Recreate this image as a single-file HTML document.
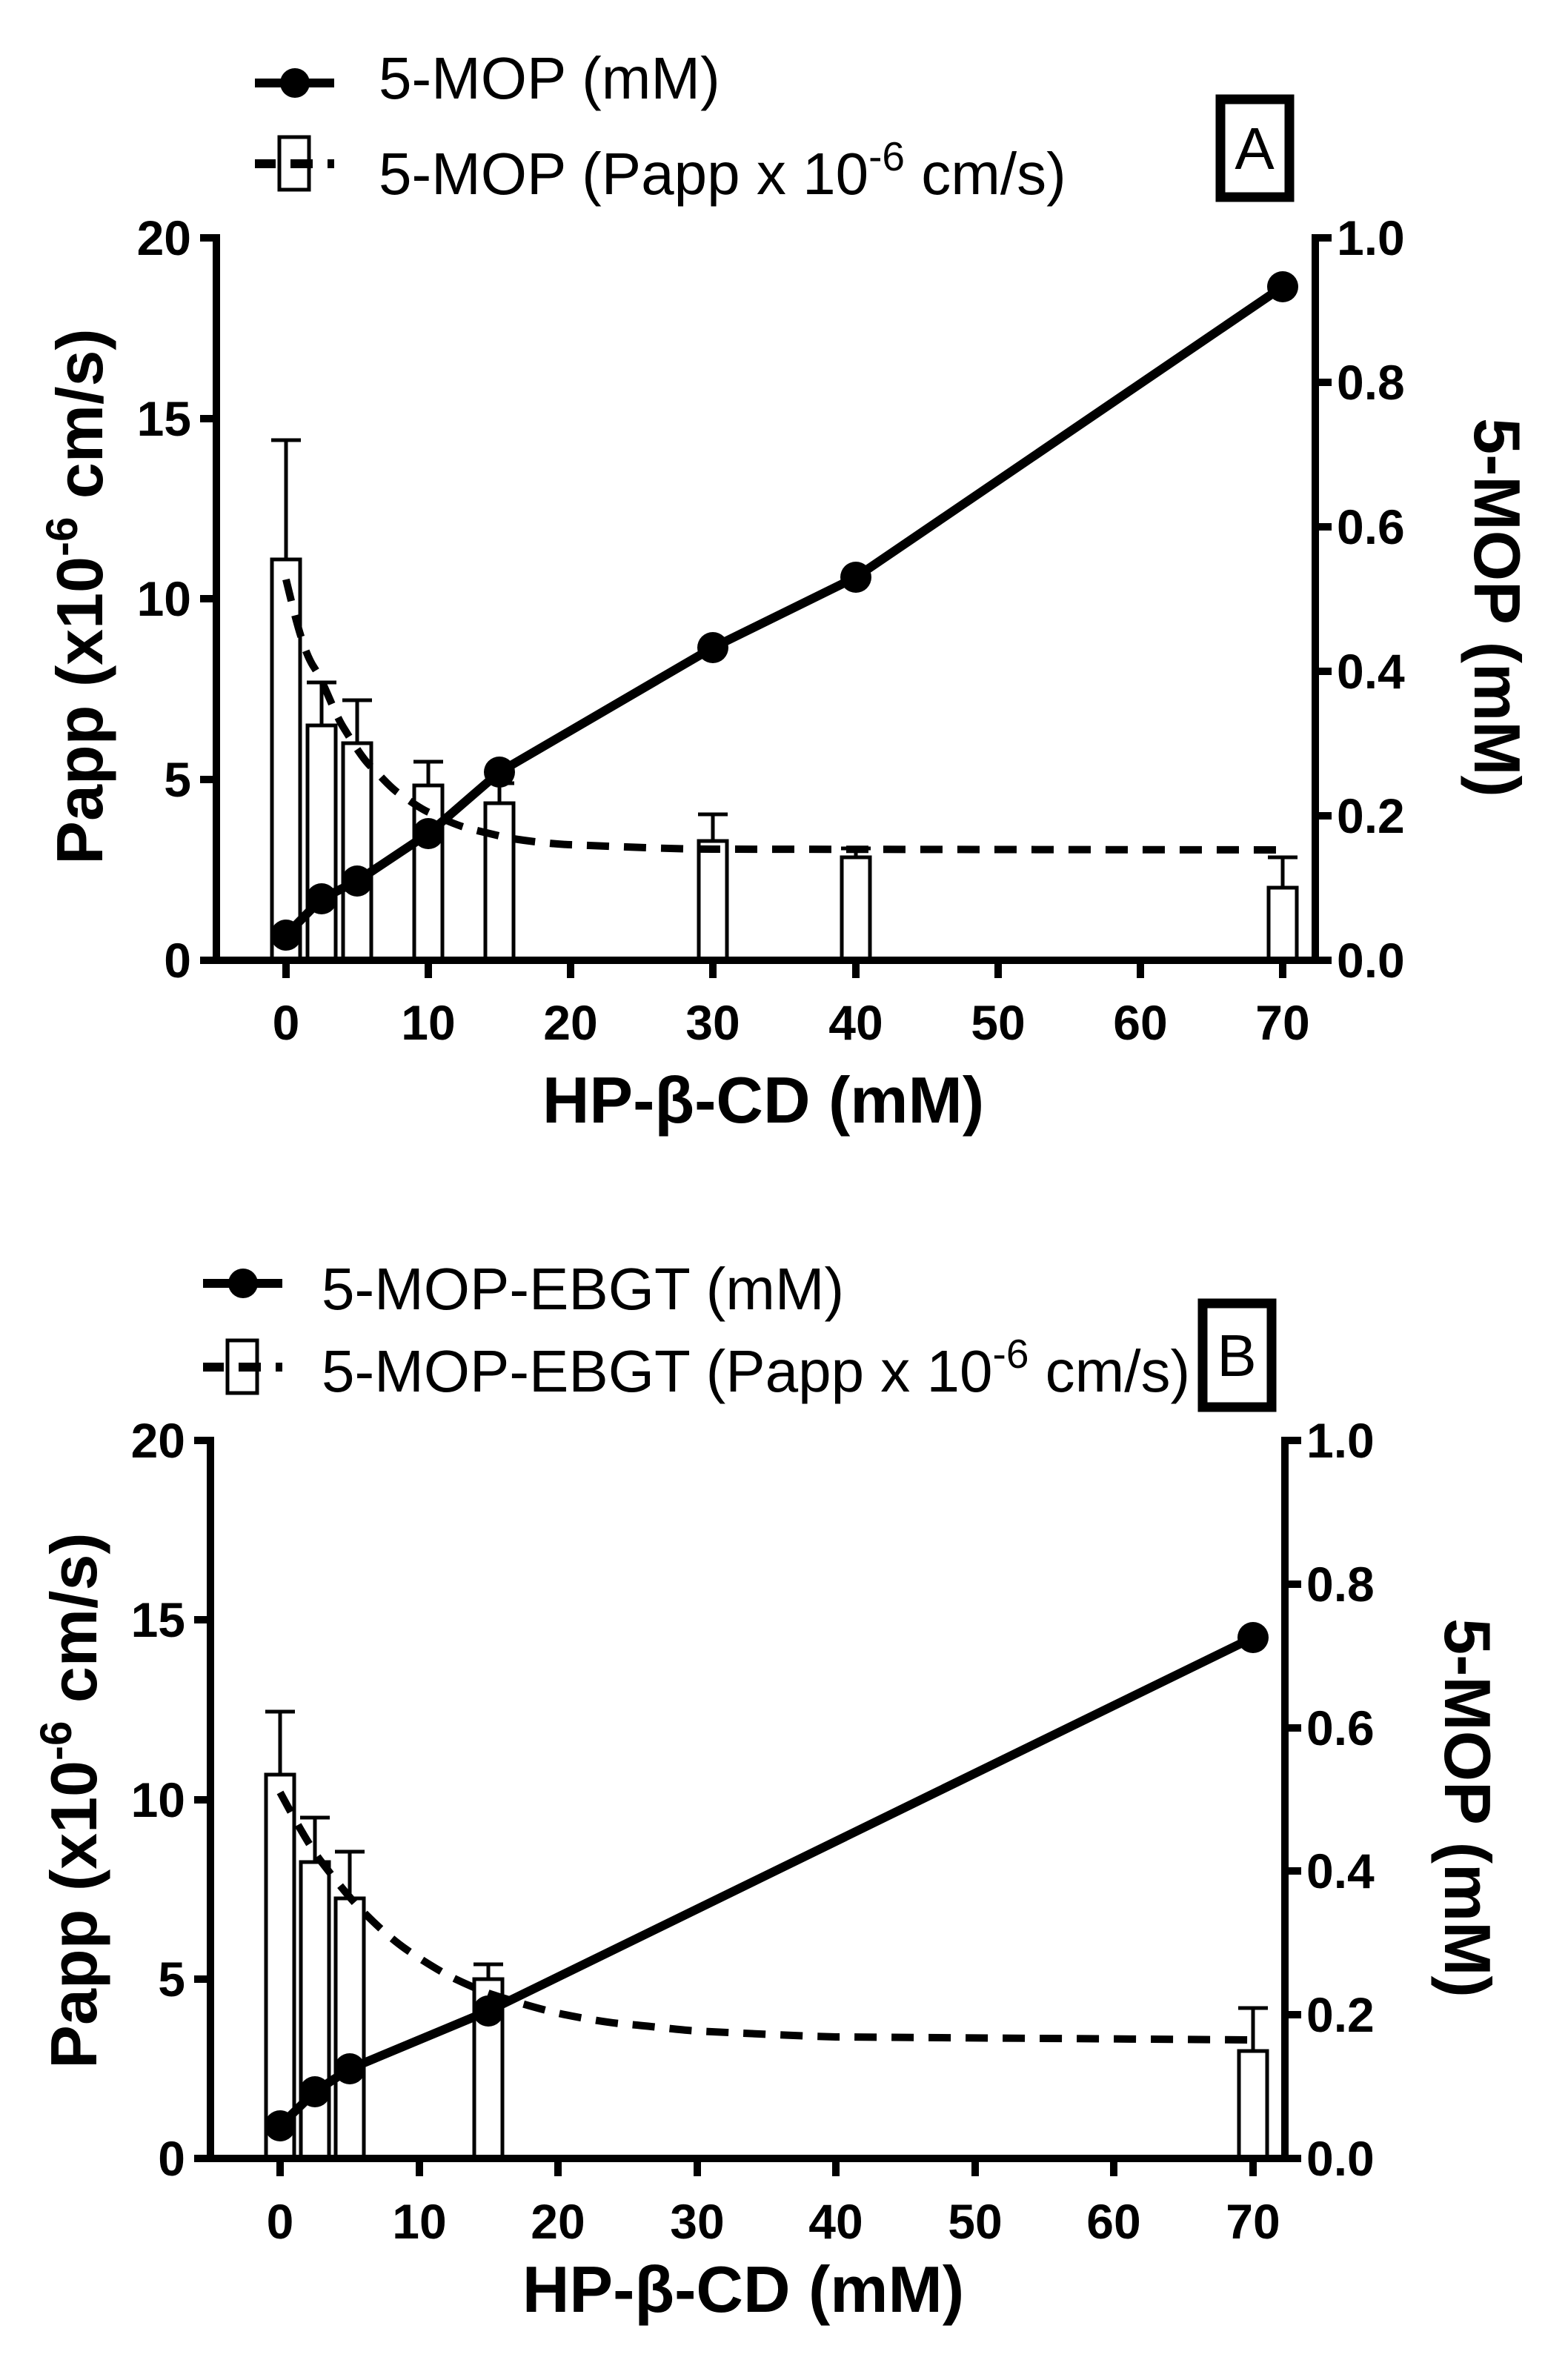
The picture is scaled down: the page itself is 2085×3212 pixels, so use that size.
<!DOCTYPE html>
<html><head><meta charset="utf-8"><style>
html,body{margin:0;padding:0;background:#fff;}
svg{display:block;}
text{font-family:"Liberation Sans",Arial,sans-serif;fill:#000;}
.t{font-weight:bold;font-size:66px;}
.lg{font-size:80px;}
.ti{font-weight:bold;font-size:88px;}
</style></head><body>
<svg width="2085" height="3212" viewBox="0 0 2085 3212" xmlns="http://www.w3.org/2000/svg">
<rect width="2085" height="3212" fill="#fff"/>

<!-- ===== PANEL A ===== -->
<g>
<line x1="344" y1="112" x2="451" y2="112" stroke="#000" stroke-width="12"/>
<circle cx="398" cy="112" r="20" fill="#000"/>
<text class="lg" x="511" y="133">5-MOP (mM)</text>
<line x1="344" y1="221" x2="372" y2="221" stroke="#000" stroke-width="12"/>
<line x1="392" y1="221" x2="422" y2="221" stroke="#000" stroke-width="12"/>
<line x1="442" y1="221" x2="451" y2="221" stroke="#000" stroke-width="12"/>
<rect x="377" y="185" width="40" height="71" fill="#fff" stroke="#000" stroke-width="5"/>
<line x1="392" y1="221" x2="422" y2="221" stroke="#000" stroke-width="12"/>
<text class="lg" x="511" y="262">5-MOP (Papp x 10<tspan font-size="55" dy="-32">-6</tspan><tspan dy="32"> cm/s)</tspan></text>
<rect x="1647" y="134" width="93" height="132" fill="none" stroke="#000" stroke-width="13"/>
<text class="lg" x="1693" y="228" text-anchor="middle">A</text>

<g fill="#fff" stroke="#000" stroke-width="5">
<rect x="367" y="755" width="38" height="541"/>
<rect x="415" y="979" width="38" height="317"/>
<rect x="463" y="1003" width="38" height="293"/>
<rect x="559" y="1060" width="38" height="236"/>
<rect x="655" y="1084" width="38" height="212"/>
<rect x="943" y="1135" width="38" height="161"/>
<rect x="1136" y="1157" width="38" height="139"/>
<rect x="1712" y="1198" width="38" height="98"/>
</g>
<g stroke="#000" stroke-width="5" fill="none">
<path d="M386 755V594M366 594h40"/>
<path d="M434 979V921M414 921h40"/>
<path d="M482 1003V945M462 945h40"/>
<path d="M578 1060V1028M558 1028h40"/>
<path d="M674 1084V1057M654 1057h40"/>
<path d="M962 1135V1099M942 1099h40"/>
<path d="M1155 1157V1145M1135 1145h40"/>
<path d="M1731 1198V1157M1711 1157h40"/>
</g>
<path d="M386 782 C400 840 410 880 424 901 S 450 960 463 981 S 490 1025 501 1035 S 525 1062 540 1072 S 565 1090 578 1096 S 615 1114 636 1119 S 680 1130 693 1132 S 740 1139 770 1140 S 900 1146 962 1146 L1731 1147" fill="none" stroke="#000" stroke-width="10" stroke-dasharray="30,20"/>
<polyline points="386,1262 434,1213 482,1189 578,1125 674,1042 962,874 1155,779 1731,387" fill="none" stroke="#000" stroke-width="12" stroke-linejoin="round"/>
<g fill="#000">
<circle cx="386" cy="1262" r="21"/><circle cx="434" cy="1213" r="21"/><circle cx="482" cy="1189" r="21"/>
<circle cx="578" cy="1125" r="21"/><circle cx="674" cy="1042" r="21"/><circle cx="962" cy="874" r="21"/>
<circle cx="1155" cy="779" r="21"/><circle cx="1731" cy="387" r="21"/>
</g>
<g stroke="#000" stroke-width="10" fill="none">
<line x1="292" y1="316" x2="292" y2="1301"/>
<line x1="1775" y1="316" x2="1775" y2="1301"/>
<line x1="270" y1="1296" x2="1790" y2="1296"/>
<path d="M270 321h22M270 565h22M270 808h22M270 1052h22"/>
<path d="M1775 321h22M1775 516h22M1775 711h22M1775 906h22M1775 1101h22M1775 1296h22"/>
<path d="M386 1296v24M578 1296v24M770 1296v24M962 1296v24M1155 1296v24M1347 1296v24M1539 1296v24M1731 1296v24"/>
</g>
<g text-anchor="end">
<text class="t" x="258" y="344">20</text><text class="t" x="258" y="588">15</text>
<text class="t" x="258" y="831">10</text><text class="t" x="258" y="1075">5</text><text class="t" x="258" y="1319">0</text>
</g>
<g>
<text class="t" x="1804" y="344">1.0</text><text class="t" x="1804" y="539">0.8</text>
<text class="t" x="1804" y="734">0.6</text><text class="t" x="1804" y="929">0.4</text>
<text class="t" x="1804" y="1124">0.2</text><text class="t" x="1804" y="1319">0.0</text>
</g>
<g text-anchor="middle">
<text class="t" x="386" y="1403">0</text><text class="t" x="578" y="1403">10</text><text class="t" x="770" y="1403">20</text>
<text class="t" x="962" y="1403">30</text><text class="t" x="1155" y="1403">40</text><text class="t" x="1347" y="1403">50</text>
<text class="t" x="1539" y="1403">60</text><text class="t" x="1731" y="1403">70</text>
</g>
<text class="ti" x="1030" y="1515" text-anchor="middle">HP-β-CD (mM)</text>
<text class="ti" transform="translate(138,805) rotate(-90)" text-anchor="middle">Papp (x10<tspan font-size="60" dy="-34">-6</tspan><tspan dy="34"> cm/s)</tspan></text>
<text class="ti" transform="translate(1990,820) rotate(90)" text-anchor="middle">5-MOP (mM)</text>
</g>

<!-- ===== PANEL B ===== -->
<g>
<line x1="274" y1="1732" x2="381" y2="1732" stroke="#000" stroke-width="12"/>
<circle cx="328" cy="1732" r="20" fill="#000"/>
<text class="lg" x="434" y="1767">5-MOP-EBGT (mM)</text>
<line x1="274" y1="1845" x2="302" y2="1845" stroke="#000" stroke-width="12"/>
<line x1="372" y1="1845" x2="381" y2="1845" stroke="#000" stroke-width="12"/>
<rect x="307" y="1809" width="40" height="71" fill="#fff" stroke="#000" stroke-width="5"/>
<line x1="322" y1="1845" x2="352" y2="1845" stroke="#000" stroke-width="12"/>
<text class="lg" x="434" y="1878">5-MOP-EBGT (Papp x 10<tspan font-size="55" dy="-32">-6</tspan><tspan dy="32"> cm/s)</tspan></text>
<rect x="1623" y="1759" width="93" height="140" fill="none" stroke="#000" stroke-width="13"/>
<text class="lg" x="1669" y="1857" text-anchor="middle">B</text>

<g fill="#fff" stroke="#000" stroke-width="5">
<rect x="359" y="2395" width="38" height="518"/>
<rect x="406" y="2513" width="38" height="400"/>
<rect x="453" y="2562" width="38" height="351"/>
<rect x="640" y="2671" width="38" height="242"/>
<rect x="1672" y="2768" width="38" height="145"/>
</g>
<g stroke="#000" stroke-width="5" fill="none">
<path d="M378 2395V2310M358 2310h40"/>
<path d="M425 2513V2453M405 2453h40"/>
<path d="M472 2562V2499M452 2499h40"/>
<path d="M659 2671V2651M639 2651h40"/>
<path d="M1691 2768V2710M1671 2710h40"/>
</g>
<path d="M378 2419 C400 2460 420 2495 434 2513 S 470 2560 491 2581 S 530 2618 547 2630 S 590 2658 603 2665 S 645 2685 659 2690 S 730 2712 753 2717 S 820 2730 847 2732 S 920 2740 941 2741 S 1080 2748 1128 2749 L1691 2753" fill="none" stroke="#000" stroke-width="10" stroke-dasharray="30,20"/>
<polyline points="378,2869 425,2823 472,2792 659,2714 1691,2210" fill="none" stroke="#000" stroke-width="12" stroke-linejoin="round"/>
<g fill="#000">
<circle cx="378" cy="2869" r="21"/><circle cx="425" cy="2823" r="21"/><circle cx="472" cy="2792" r="21"/>
<circle cx="659" cy="2714" r="21"/><circle cx="1691" cy="2210" r="21"/>
</g>
<g stroke="#000" stroke-width="10" fill="none">
<line x1="284" y1="1939" x2="284" y2="2918"/>
<line x1="1734" y1="1939" x2="1734" y2="2918"/>
<line x1="262" y1="2913" x2="1749" y2="2913"/>
<path d="M262 1944h22M262 2186h22M262 2429h22M262 2671h22"/>
<path d="M1734 1944h22M1734 2138h22M1734 2332h22M1734 2525h22M1734 2719h22M1734 2913h22"/>
<path d="M378 2913v24M566 2913v24M753 2913v24M941 2913v24M1128 2913v24M1316 2913v24M1503 2913v24M1691 2913v24"/>
</g>
<g text-anchor="end">
<text class="t" x="250" y="1967">20</text><text class="t" x="250" y="2209">15</text>
<text class="t" x="250" y="2452">10</text><text class="t" x="250" y="2694">5</text><text class="t" x="250" y="2936">0</text>
</g>
<g>
<text class="t" x="1763" y="1967">1.0</text><text class="t" x="1763" y="2161">0.8</text>
<text class="t" x="1763" y="2355">0.6</text><text class="t" x="1763" y="2548">0.4</text>
<text class="t" x="1763" y="2742">0.2</text><text class="t" x="1763" y="2936">0.0</text>
</g>
<g text-anchor="middle">
<text class="t" x="378" y="3021">0</text><text class="t" x="566" y="3021">10</text><text class="t" x="753" y="3021">20</text>
<text class="t" x="941" y="3021">30</text><text class="t" x="1128" y="3021">40</text><text class="t" x="1316" y="3021">50</text>
<text class="t" x="1503" y="3021">60</text><text class="t" x="1691" y="3021">70</text>
</g>
<text class="ti" x="1003" y="3120" text-anchor="middle">HP-β-CD (mM)</text>
<text class="ti" transform="translate(130,2430) rotate(-90)" text-anchor="middle">Papp (x10<tspan font-size="60" dy="-34">-6</tspan><tspan dy="34"> cm/s)</tspan></text>
<text class="ti" transform="translate(1950,2440) rotate(90)" text-anchor="middle">5-MOP (mM)</text>
</g>
</svg>
</body></html>
